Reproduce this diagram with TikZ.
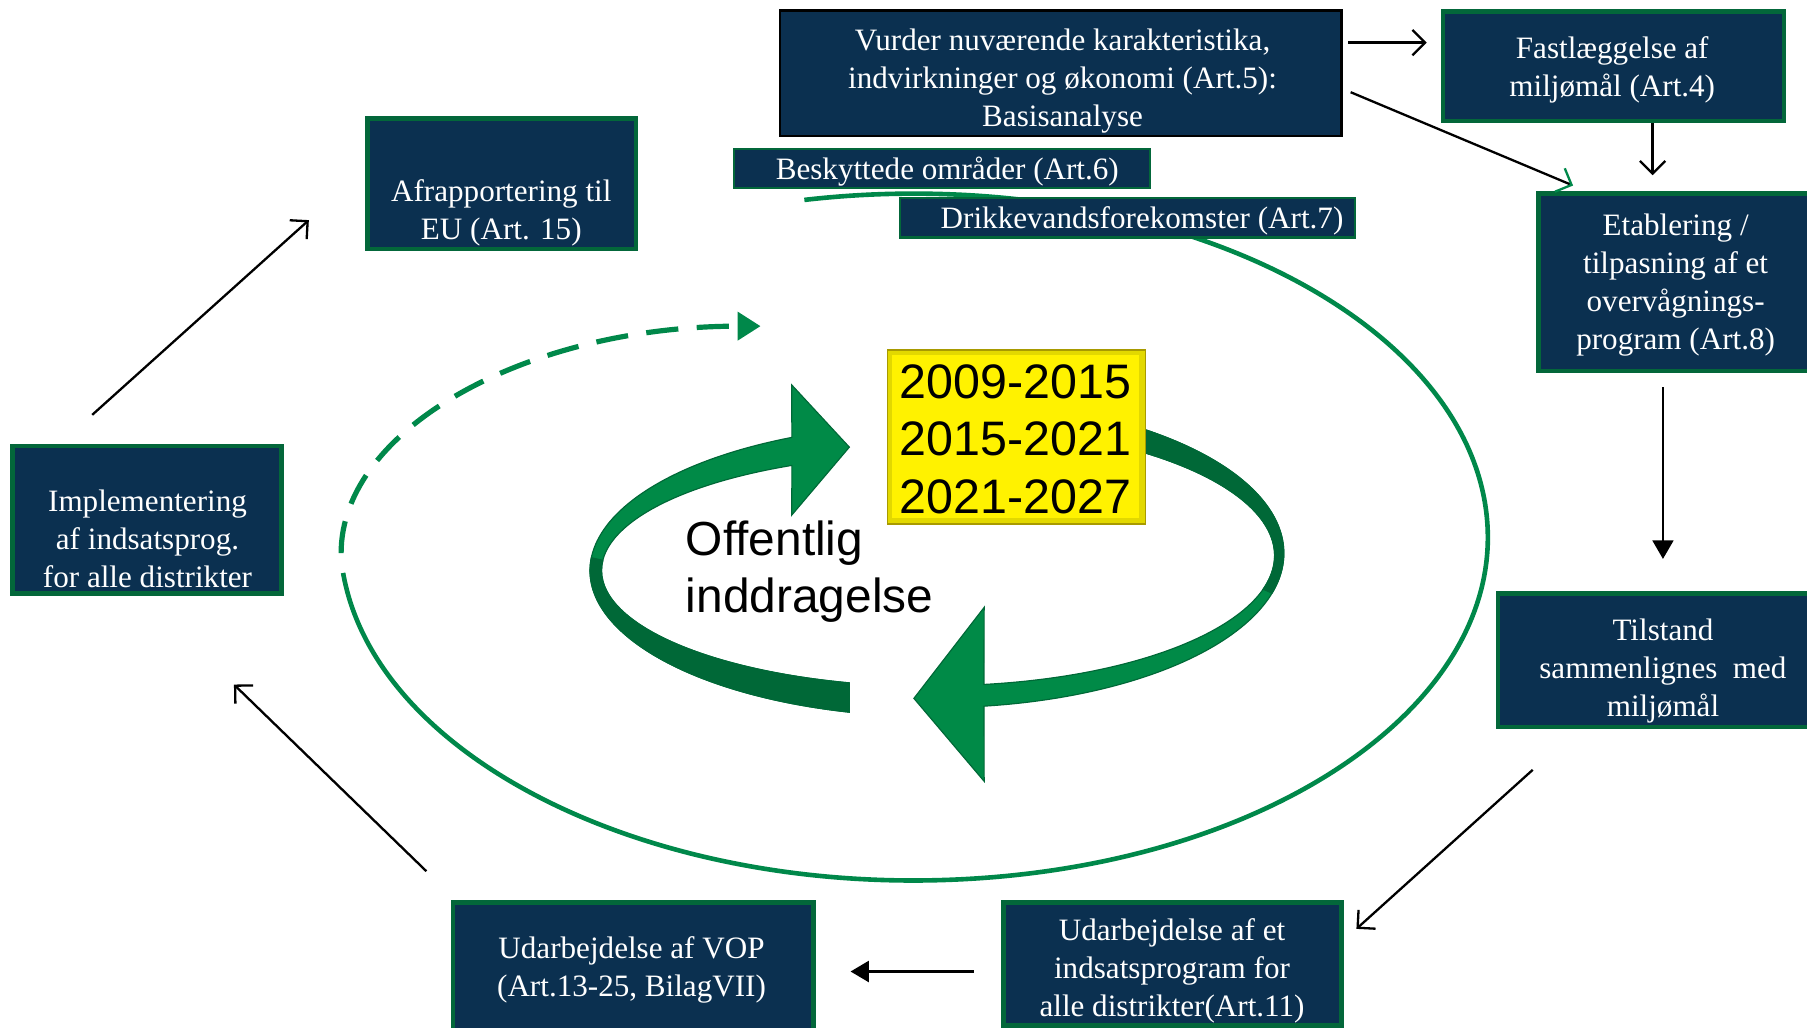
\documentclass[tikz,border=0pt]{standalone}
\usepackage{fontspec}
\setmainfont{Liberation Serif}
\newfontfamily\arialfont{Liberation Sans}
\usetikzlibrary{arrows.meta}
\definecolor{navy}{HTML}{0B3050}
\definecolor{boxgreen}{HTML}{03673A}
\definecolor{ringgreen}{HTML}{00884A}
\definecolor{darkgreen}{HTML}{006837}
\definecolor{lightgreen}{HTML}{008A47}
\definecolor{yellowedge}{HTML}{A89A00}
\definecolor{yellowbevel}{HTML}{E2D800}
\begin{document}
\begin{tikzpicture}[x=1pt,y=-1pt,
  box/.style={draw=boxgreen, line width=4pt, fill=navy, inner sep=0pt},
  blackbox/.style={draw=black, line width=2pt, fill=navy, inner sep=0pt},
  thinbox/.style={draw=boxgreen, line width=2pt, fill=navy, inner sep=0pt},
  boxtxt/.style={text=white, align=center, font=\fontsize{27}{33}\selectfont, inner sep=0pt},
  conn/.style={draw=black, line width=2pt, -{Straight Barb[length=11pt,width=22pt]}},
  connfill/.style={draw=black, line width=2pt, -{Triangle[length=16pt,width=18pt]}},
  ring/.style={draw=darkgreen, line width=1pt},
]
\useasboundingbox (0,0) rectangle (1568,892);

% big ellipse
\draw[ringgreen, line width=4pt] ({793+498*cos(174)},{466+298*sin(174)})
  arc[start angle=174, end angle=-101, x radius=498, y radius=298];
% dashed arc
\draw[ringgreen, line width=4.5pt, dash pattern=on 28pt off 16pt,
  -{Triangle[length=20pt,width=24pt]}] (296,480)
  arc[start angle=180, end angle=270, x radius=364, y radius=197];

% central arrow 1 (left / top)
\filldraw[fill=lightgreen, ring] ({812+300*cos(104.5)},{495+127*sin(104.5)})
  arc[start angle=104.5, end angle=245.4, x radius=300, y radius=127]
  -- (687,334) -- (737,388) -- (687,447)
  -- ({812+290*cos(244.5)},{495+101*sin(244.5)})
  arc[start angle=244.5, end angle=105, x radius=290, y radius=101] -- cycle;
\filldraw[fill=darkgreen, ring] ({812+300*cos(104.5)},{495+127*sin(104.5)})
  arc[start angle=104.5, end angle=185, x radius=300, y radius=127]
  -- ({812+290*cos(185)},{495+101*sin(185)})
  arc[start angle=185, end angle=105, x radius=290, y radius=101] -- cycle;

% central arrow 2 (right / bottom)
\filldraw[fill=lightgreen, ring] ({813+301*cos(-55.2)},{480+134*sin(-55.2)})
  arc[start angle=-55.2, end angle=82.2, x radius=301, y radius=134]
  -- (854,678) -- (793,606) -- (854,527)
  -- ({813+293*cos(82)},{482+113*sin(82)})
  arc[start angle=82, end angle=-54.1, x radius=293, y radius=113] -- cycle;
\filldraw[fill=darkgreen, ring] ({813+301*cos(-55.2)},{480+134*sin(-55.2)})
  arc[start angle=-55.2, end angle=15, x radius=301, y radius=134]
  -- ({813+293*cos(15)},{482+113*sin(15)})
  arc[start angle=15, end angle=-54.1, x radius=293, y radius=113] -- cycle;

% yellow years box
\node[fill=yellowbevel, draw=yellowedge, line width=1.5pt, minimum width=224pt, minimum height=151pt, inner sep=0pt] (years) at (882,379.5) {};
\fill[yellow] ([xshift=5pt,yshift=-5pt]years.north west) rectangle ([xshift=-6pt,yshift=6pt]years.south east);
\node[font=\arialfont\fontsize{42}{50}\selectfont, align=center, inner sep=0pt] (yearstxt) at (881,381) {2009-2015\\2015-2021\\2021-2027};
\node[font=\arialfont\fontsize{41.5}{50}\selectfont, align=left, inner sep=0pt, anchor=west] (offentlig) at (595,496) {Offentlig\\inddragelse};

% boxes
\node[blackbox, minimum width=487pt, minimum height=109pt] (vurder) at (920.5,63.5) {};
\node[boxtxt] at (922,70.5) {Vurder nuværende karakteristika,\\indvirkninger og økonomi (Art.5):\\Basisanalyse};
\node[box, minimum width=296pt, minimum height=95pt] (fast) at (1400,57.5) {};
\node[boxtxt] at (1399,61) {Fastlæggelse af\\miljømål (Art.4)};
\node[box, minimum width=245pt, minimum height=154pt] (etab) at (1457.5,245) {};
\node[boxtxt] at (1454,247.5) {Etablering /\\tilpasning af et\\overvågnings-\\program (Art.8)};
\node[box, minimum width=280pt, minimum height=116pt] (tilst) at (1440,573) {};
\node[boxtxt] at (1443,582.5) {Tilstand\\sammenlignes\ \ med\\miljømål};
\node[box, minimum width=293pt, minimum height=107pt] (indsats) at (1017.5,836.5) {};
\node[boxtxt] at (1017,842.5) {Udarbejdelse af et\\indsatsprogram for\\alle distrikter(Art.11)};
\node[box, minimum width=313pt, minimum height=122pt] (vop) at (549.5,844) {};
\node[boxtxt] at (548,841.5) {Udarbejdelse af VOP\\(Art.13-25, BilagVII)};
\node[box, minimum width=233pt, minimum height=128pt] (impl) at (127.5,451) {};
\node[boxtxt] at (128,467.5) {Implementering\\af indsatsprog.\\for alle distrikter};
\node[box, minimum width=233pt, minimum height=113pt] (afrap) at (435.5,159.5) {};
\node[boxtxt] at (435,185) {Afrapportering til\\EU (Art. 15)};
\node[thinbox, minimum width=361pt, minimum height=34pt] (besk) at (817.5,146) {};
\node[boxtxt] at (822,148.5) {Beskyttede områder (Art.6)};
\node[thinbox, minimum width=395pt, minimum height=34pt] (drikke) at (978.5,189) {};
\node[boxtxt] at (991,191.5) {Drikkevandsforekomster (Art.7)};

% connector end points
\coordinate (a1) at (1170,37);  \coordinate (a2) at (1238,37);
\coordinate (b1) at (1172,80);  \coordinate (b2) at (1365,161);
\coordinate (c1) at (1434,107); \coordinate (c2) at (1434,152);
\coordinate (d1) at (1443,336); \coordinate (d2) at (1443,485);
\coordinate (e1) at (1330,668); \coordinate (e2) at (1177,806);
\coordinate (f1) at (845,843);  \coordinate (f2) at (738,843);
\coordinate (g1) at (370,756);  \coordinate (g2) at (203,594);
\coordinate (h1) at (80,360);   \coordinate (h2) at (268,191);

\draw[conn] (a1) -- (a2);
\draw[draw=black, line width=2pt, -{Straight Barb[length=11pt,width=22pt,color=ringgreen]}] (b1) -- (b2);
\draw[conn] (c1) -- (c2);
\draw[connfill] (d1) -- (d2);
\draw[conn] (e1) -- (e2);
\draw[connfill, line width=3pt] (f1) -- (f2);
\draw[conn] (g1) -- (g2);
\draw[conn] (h1) -- (h2);
\end{tikzpicture}
\end{document}
